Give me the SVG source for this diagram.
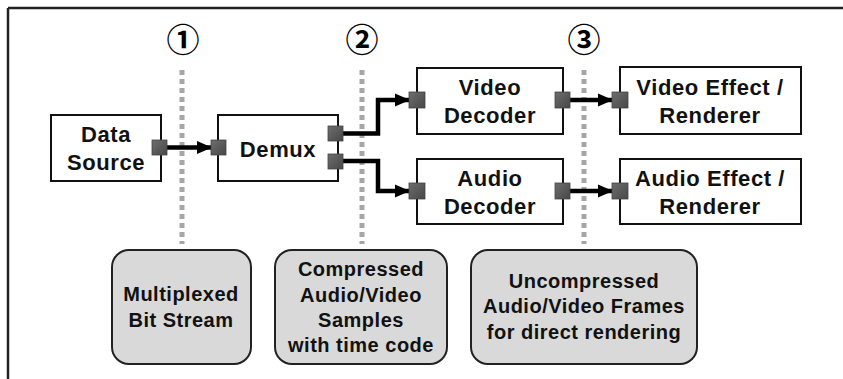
<svg xmlns="http://www.w3.org/2000/svg" width="843" height="379" viewBox="0 0 843 379">
<defs>
<linearGradient id="pg" x1="0" y1="0" x2="1" y2="1">
<stop offset="0" stop-color="#6e6e6e"/>
<stop offset="1" stop-color="#474747"/>
</linearGradient>
<marker id="ah" markerUnits="userSpaceOnUse" markerWidth="15" markerHeight="15" viewBox="0 0 15 15" refX="14" refY="7.5" orient="auto">
<path d="M0,1 L15,7.5 L0,14 Z" fill="#000"/>
</marker>
<style>
.box{fill:#fff;stroke:#111;stroke-width:2}
.note{fill:#d9d9d9;stroke:#222;stroke-width:2}
.port{fill:url(#pg);stroke:#444;stroke-width:0.8}
.t{font-family:"Liberation Sans",Arial,sans-serif;font-weight:bold;font-size:22px;fill:#111;text-anchor:middle;letter-spacing:0.6px}
.n{font-family:"Liberation Sans",Arial,sans-serif;font-weight:bold;font-size:20px;fill:#111;text-anchor:middle;letter-spacing:0.5px}
.num{font-family:"Noto Sans CJK JP","DejaVu Sans",sans-serif;font-weight:bold;font-size:33px;fill:#000;text-anchor:middle}
.dot{stroke:#a6a6a6;stroke-width:5;stroke-dasharray:5 4;fill:none}
.arr{stroke:#000;stroke-width:4.5;fill:none;marker-end:url(#ah)}
</style>
</defs>
<rect width="843" height="379" fill="#fff"/>
<g id="frame">
<path d="M8,8 H843 M8,8 V379" stroke="#222" stroke-width="2.5" fill="none"/>
</g>
<g id="markers">
<line class="dot" x1="182" y1="70" x2="182" y2="244"/>
<line class="dot" x1="362" y1="70" x2="362" y2="244"/>
<line class="dot" x1="584" y1="70" x2="584" y2="244"/>
<text class="num" x="183" y="52">①</text>
<text class="num" x="362" y="52">②</text>
<text class="num" x="584" y="52">③</text>
</g>
<g id="data-source">
<rect class="box" x="51" y="115" width="110" height="66"/>
<text class="t" x="106" y="142">Data</text>
<text class="t" x="106" y="170">Source</text>
</g>
<g id="demux">
<rect class="box" x="218" y="115" width="120" height="66"/>
<text class="t" x="278" y="157">Demux</text>
</g>
<g id="video-decoder">
<rect class="box" x="417" y="68" width="146" height="66"/>
<text class="t" x="490" y="95">Video</text>
<text class="t" x="490" y="123">Decoder</text>
</g>
<g id="audio-decoder">
<rect class="box" x="417" y="159" width="146" height="65"/>
<text class="t" x="490" y="186">Audio</text>
<text class="t" x="490" y="214">Decoder</text>
</g>
<g id="video-renderer">
<rect class="box" x="620" y="67" width="181" height="67"/>
<text class="t" x="710" y="95">Video Effect /</text>
<text class="t" x="710" y="123">Renderer</text>
</g>
<g id="audio-renderer">
<rect class="box" x="620" y="159" width="181" height="65"/>
<text class="t" x="710" y="186">Audio Effect /</text>
<text class="t" x="710" y="214">Renderer</text>
</g>
<g id="note-1">
<rect class="note" x="112" y="250" width="139" height="114" rx="17"/>
<text class="n" x="181" y="301">Multiplexed</text>
<text class="n" x="181" y="327">Bit Stream</text>
</g>
<g id="note-2">
<rect class="note" x="275" y="250" width="172" height="114" rx="17"/>
<text class="n" x="361" y="276">Compressed</text>
<text class="n" x="361" y="302">Audio/Video</text>
<text class="n" x="361" y="327">Samples</text>
<text class="n" x="361" y="352">with time code</text>
</g>
<g id="note-3">
<rect class="note" x="471" y="250" width="226" height="114" rx="17"/>
<text class="n" x="584" y="288">Uncompressed</text>
<text class="n" x="584" y="313">Audio/Video Frames</text>
<text class="n" x="584" y="339">for direct rendering</text>
</g>
<g id="connectors">
<path class="arr" d="M166,147.5 H211"/>
<path class="arr" d="M342,133.5 H378 V100 H409"/>
<path class="arr" d="M342,161 H378 V191 H409"/>
<path class="arr" d="M569,100 H612"/>
<path class="arr" d="M569,191 H612"/>
</g>
<g id="ports">
<rect class="port" x="152" y="140" width="15" height="15"/>
<rect class="port" x="211" y="140" width="15" height="15"/>
<rect class="port" x="328" y="126" width="15" height="15"/>
<rect class="port" x="328" y="154" width="15" height="15"/>
<rect class="port" x="409" y="92" width="16" height="16"/>
<rect class="port" x="555" y="92" width="15" height="16"/>
<rect class="port" x="612" y="92" width="16" height="16"/>
<rect class="port" x="409" y="183" width="16" height="16"/>
<rect class="port" x="555" y="183" width="15" height="16"/>
<rect class="port" x="612" y="183" width="16" height="16"/>
</g>
</svg>
